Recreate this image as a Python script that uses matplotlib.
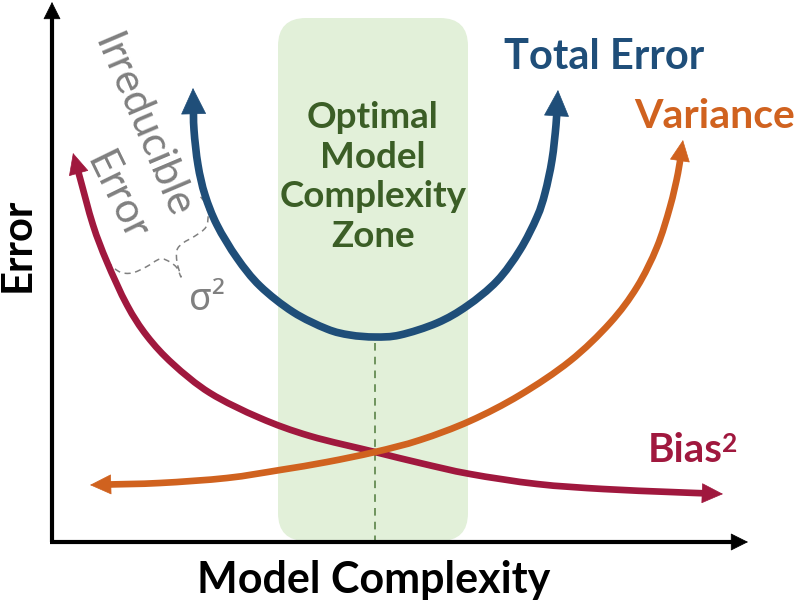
import numpy as np
import matplotlib
matplotlib.use("Agg")
import matplotlib.pyplot as plt
from matplotlib.patches import FancyBboxPatch, PathPatch
from matplotlib.path import Path

# ---- data (pixel-space coordinates of the sketch) ----
bias_x = [73, 80, 93, 107, 127, 147, 173, 210, 260, 310, 375, 420, 470, 537, 603, 670, 723]
bias_y = [153, 178, 225, 262, 305, 336, 364, 393, 418, 436, 452, 463, 474, 484, 489, 492, 494]

var_x = [90, 160, 227, 280, 327, 375, 420, 470, 520, 570, 610, 637, 657, 670, 678, 683]
var_y = [485, 483, 478, 470, 462, 452, 440, 421, 395, 361, 323, 287, 247, 207, 173, 140]

tot_x = [193, 194, 198, 205, 217, 237, 260, 293, 327, 350, 375, 400, 437, 467, 497, 520, 537, 545, 552, 556, 558]
tot_y = [88, 130, 165, 195, 225, 258, 286, 312, 329, 335, 337, 335, 323, 306, 281, 250, 217, 193, 160, 125, 90]

optimal_x = 375
zone_x = [278, 468]
zone_y = [18, 541]

zone_lines = ["Optimal", "Model", "Complexity", "Zone"]
label_total = "Total Error"
label_var = "Variance"
label_bias = ["Bias", "2"]
label_irr = ["Irreducible", "Error"]
label_sigma = "σ²"
xlabel = "Model Complexity"
ylabel = "Error"

brace_x = [102, 110, 120, 132, 146, 160, 170, 177, 181, 177, 177, 183, 195, 206, 208, 205, 200]
brace_y = [252, 264, 272, 273, 267, 259, 262, 268, 277, 262, 250, 243, 236, 227, 214, 203, 196]

C_BLUE = "#1F4E79"
C_ORANGE = "#D0621F"
C_RED = "#A0183E"
C_GREEN_BG = "#E2F0D9"
C_GREEN_TX = "#3B5E26"
C_GRAY = "#808080"

fig = plt.figure(figsize=(8, 6), dpi=100)
ax = fig.add_axes([0, 0, 1, 1])
ax.set_xlim(0, 800)
ax.set_ylim(600, 0)
ax.axis("off")

PX2PT = 72 / 100.0


def smooth_path(xs, ys):
    """Catmull-Rom curve through the given points, as cubic Bezier path."""
    P = np.column_stack([xs, ys]).astype(float)
    n = len(P)
    if n < 3:
        return Path(P, [Path.MOVETO] + [Path.LINETO] * (n - 1))
    ext = np.vstack([2 * P[0] - P[1], P, 2 * P[-1] - P[-2]])
    verts = [P[0]]
    codes = [Path.MOVETO]
    for i in range(1, n):
        p0, p1, p2, p3 = ext[i - 1], ext[i], ext[i + 1], ext[i + 2]
        c1 = p1 + (p2 - p0) / 6.0
        c2 = p2 - (p3 - p1) / 6.0
        verts += [c1, c2, p2]
        codes += [Path.CURVE4] * 3
    return Path(np.array(verts), codes)


def draw_line(xs, ys, color, lw, z, ls="-"):
    ax.add_patch(PathPatch(smooth_path(xs, ys), fill=False, ec=color, lw=lw, ls=ls,
                           capstyle="butt", joinstyle="round", zorder=z))


def head(xs, ys, color, head_len_px, head_w_px, z):
    tip = np.array([xs[-1], ys[-1]], float)
    prev = np.array([xs[-2], ys[-2]], float)
    d = tip - prev
    d = d / np.hypot(*d)
    start = tip - d * head_len_px * 1.05
    ax.annotate("", xy=tuple(tip), xytext=tuple(start),
                arrowprops=dict(arrowstyle=f"-|>,head_length={head_len_px*PX2PT:.2f},head_width={head_w_px*PX2PT/2:.2f}",
                                mutation_scale=1, color=color, lw=0.5, shrinkA=0, shrinkB=0),
                zorder=z + 1)


def trimmed(xs, ys, head_len_px, both):
    xs = list(map(float, xs))
    ys = list(map(float, ys))
    for end in ([0, -1] if both else [-1]):
        j = 1 if end == 0 else -2
        tip = np.array([xs[end], ys[end]])
        d = tip - np.array([xs[j], ys[j]])
        d = d / np.hypot(*d)
        b = tip - d * head_len_px * 0.55
        xs[end], ys[end] = b[0], b[1]
    return xs, ys


def arrow_curve(xs, ys, color, lw, hl, hw, both=False, z=3):
    lx, ly = trimmed(xs, ys, hl, both)
    draw_line(lx, ly, color, lw, z)
    head(xs, ys, color, hl, hw, z)
    if both:
        head(xs[::-1], ys[::-1], color, hl, hw, z)


# green zone
zone = FancyBboxPatch((zone_x[0], zone_y[0]), zone_x[1] - zone_x[0], zone_y[1] - zone_y[0],
                      boxstyle="round,pad=0,rounding_size=28", fc=C_GREEN_BG, ec="none", zorder=0)
ax.add_patch(zone)

# dashed optimum line
ax.plot([optimal_x, optimal_x], [max(tot_y) + 6, zone_y[1]], color="#4F7A3C", lw=1.1,
        ls=(0, (5, 4)), zorder=1)

# axes
arrow_curve([52, 52], [542, 2], "black", 3, 16, 16, z=2)
arrow_curve([50, 748], [542, 542], "black", 3, 16, 16, z=2)

# curves
arrow_curve(bias_x, bias_y, C_RED, 4.8, 20, 19, both=True)
arrow_curve(var_x, var_y, C_ORANGE, 4.8, 20, 19, both=True)
arrow_curve(tot_x, tot_y, C_BLUE, 5.5, 25, 24, both=True)

# brace
draw_line(brace_x, brace_y, C_GRAY, 1.1, 2, ls=(0, (4, 3)))

FB = ["Lato", "DejaVu Sans"]

ax.text(373, 177, "\n".join(zone_lines), ha="center", va="center", fontsize=26.5, fontweight="bold",
        color=C_GREEN_TX, linespacing=1.25, family=FB, zorder=5)
ax.text(604, 57, label_total, ha="center", va="center", fontsize=30, fontweight="bold",
        color=C_BLUE, family=FB)
ax.text(715, 116, label_var, ha="center", va="center", fontsize=29.5, fontweight="bold",
        color=C_ORANGE, family=FB)
ax.text(648, 462, label_bias[0], ha="left", va="baseline", fontsize=29, fontweight="bold",
        color=C_RED, family=FB)
ax.text(722, 452, label_bias[1], ha="left", va="baseline", fontsize=19, fontweight="bold",
        color=C_RED, family=FB)
ax.text(374, 580, xlabel, ha="center", va="center", fontsize=31, fontweight="bold",
        color="black", family=FB)
ax.text(18, 245, ylabel, ha="center", va="center", fontsize=30, fontweight="bold",
        color="black", rotation=90, family=FB)
ax.text(142, 126, label_irr[0], ha="center", va="center", fontsize=30, color=C_GRAY,
        rotation=-67, rotation_mode="anchor", family=FB)
ax.text(116, 197, label_irr[1], ha="center", va="center", fontsize=30, color=C_GRAY,
        rotation=-64, rotation_mode="anchor", family=FB)
ax.text(189, 310, label_sigma, ha="left", va="baseline", fontsize=27, color=C_GRAY,
        family=["Noto Sans", "DejaVu Sans"])

fig.savefig("out.png", dpi=100, facecolor="white")
